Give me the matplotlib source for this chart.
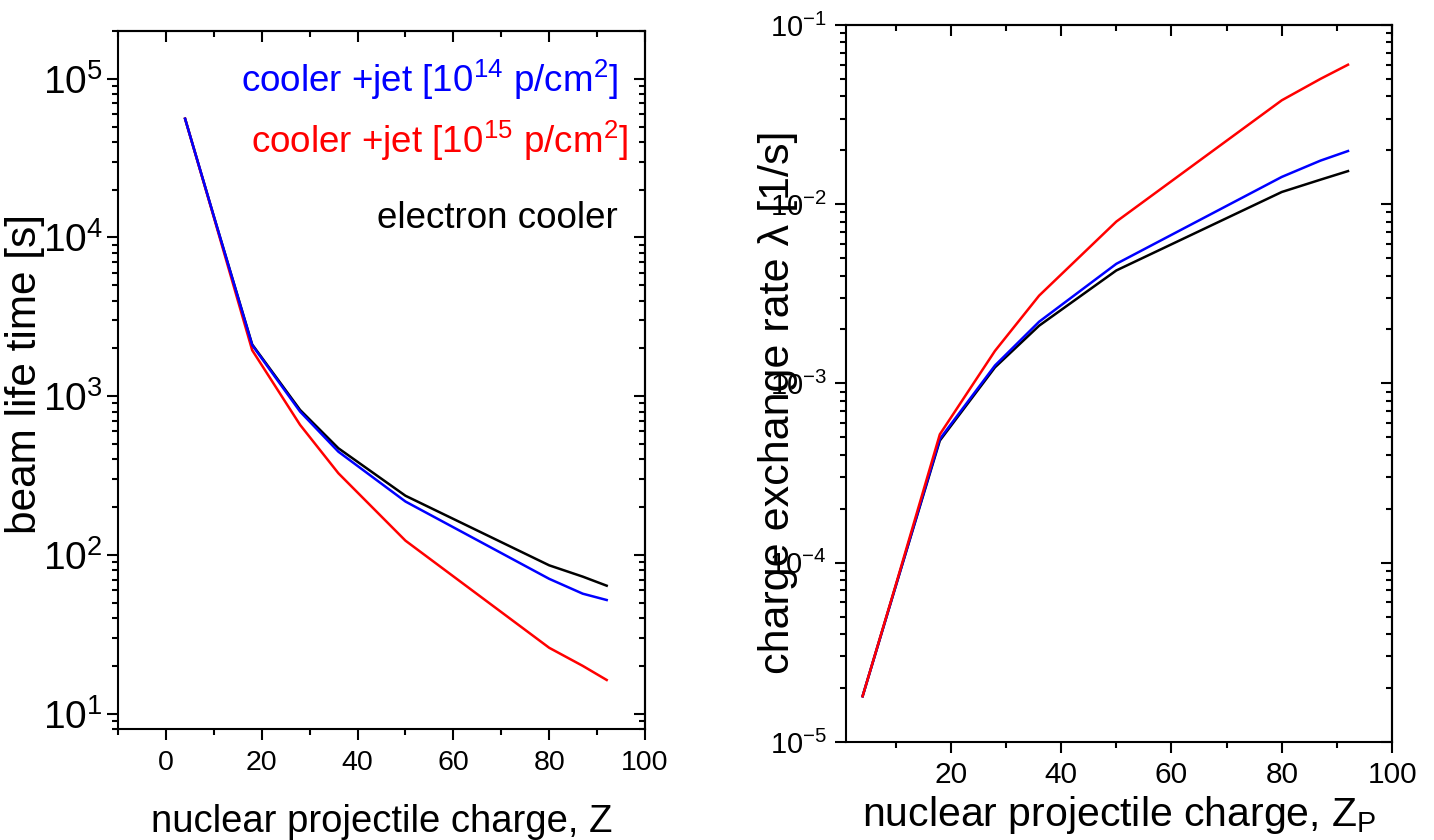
import math
import matplotlib
matplotlib.use("Agg")
import matplotlib.pyplot as plt
from matplotlib.ticker import MultipleLocator, LogLocator, NullFormatter, FuncFormatter

plt.rcParams['font.family'] = ['Liberation Sans', 'DejaVu Sans']
plt.rcParams['mathtext.fontset'] = 'custom'
plt.rcParams['mathtext.rm'] = 'Liberation Sans'
plt.rcParams['mathtext.it'] = 'Liberation Sans:italic'
plt.rcParams['mathtext.default'] = 'regular'

# nuclear charge of the projectiles
Z = [4, 10, 18, 28, 36, 50, 80, 87, 92]

# beam life time [s]
life_cooler = [56000, 13600, 2120, 820, 470, 236, 86, 73, 64]
life_jet14 = [56000, 13600, 2100, 800, 447, 217, 70.7, 57, 52]
life_jet15 = [56000, 13400, 1950, 660, 327, 123, 26, 20, 16.3]

# charge exchange rate [1/s]
rate_cooler = [1.8e-5, 7.4e-5, 4.8e-4, 1.23e-3, 2.1e-3, 4.27e-3, 1.17e-2, 1.37e-2, 1.53e-2]
rate_jet14 = [1.8e-5, 7.4e-5, 4.9e-4, 1.26e-3, 2.21e-3, 4.65e-3, 1.42e-2, 1.75e-2, 1.98e-2]
rate_jet15 = [1.8e-5, 7.5e-5, 5.2e-4, 1.52e-3, 3.09e-3, 8.0e-3, 3.8e-2, 5.0e-2, 6.0e-2]

LW = 1.8


def log_fmt(v, pos):
    return r"$10^{%d}$" % int(round(math.log10(v)))


def style_axes(ax, xmajor, xlabelsize, ylabelsize, xpad, ypad):
    ax.set_yscale('log')
    ax.xaxis.set_major_locator(MultipleLocator(xmajor))
    ax.xaxis.set_minor_locator(MultipleLocator(xmajor / 2))
    ax.yaxis.set_major_locator(LogLocator(base=10))
    ax.yaxis.set_minor_locator(LogLocator(base=10, subs=range(2, 10)))
    ax.yaxis.set_minor_formatter(NullFormatter())
    ax.yaxis.set_major_formatter(FuncFormatter(log_fmt))
    ax.tick_params(which='both', direction='out', width=1.5, top=False, right=False)
    ax.tick_params(which='major', length=8)
    ax.tick_params(which='minor', length=4.5)
    ax.tick_params(axis='x', labelsize=xlabelsize, pad=xpad)
    ax.tick_params(axis='y', labelsize=ylabelsize, pad=ypad)
    for s in ax.spines.values():
        s.set_linewidth(1.5)

    # mirrored ticks pointing inwards on top and right
    top = ax.secondary_xaxis('top')
    top.xaxis.set_major_locator(MultipleLocator(xmajor))
    top.xaxis.set_minor_locator(MultipleLocator(xmajor / 2))
    top.tick_params(which='both', direction='in', width=1.5, labeltop=False)
    top.tick_params(which='major', length=8)
    top.tick_params(which='minor', length=4.5)
    top.spines['top'].set_linewidth(1.5)

    right = ax.secondary_yaxis('right')
    right.yaxis.set_major_locator(LogLocator(base=10))
    right.yaxis.set_minor_locator(LogLocator(base=10, subs=range(2, 10)))
    right.tick_params(which='both', direction='in', width=1.5, labelright=False)
    right.tick_params(which='major', length=8)
    right.tick_params(which='minor', length=4.5)
    right.spines['right'].set_linewidth(1.5)


fig = plt.figure(figsize=(14.34, 8.4), dpi=100)

# --- left panel: beam life time ---
ax1 = fig.add_axes([0.0823, 0.1321, 0.3675, 0.831])
ax1.plot(Z, life_cooler, color='black', lw=LW)
ax1.plot(Z, life_jet15, color='red', lw=LW)
ax1.plot(Z, life_jet14, color='blue', lw=LW)
ax1.set_xlim(-10, 100)
ax1.set_ylim(8, 2e5)
style_axes(ax1, 20, 20.5, 28, 7, 3)
ax1.set_xlabel("nuclear projectile charge, Z", fontsize=27.5)
ax1.xaxis.set_label_coords(0.5, -0.108)
ax1.set_ylabel("beam life time [s]", fontsize=30.5)
ax1.yaxis.set_label_coords(-0.138, 0.509)

ax1.text(0.949, 0.9126, r"cooler +jet [10$^{14}$ p/cm$^{2}$]", color='blue',
         fontsize=26.5, ha='right', va='baseline', transform=ax1.transAxes)
ax1.text(0.968, 0.825, r"cooler +jet [10$^{15}$ p/cm$^{2}$]", color='red',
         fontsize=26.5, ha='right', va='baseline', transform=ax1.transAxes)
ax1.text(0.949, 0.718, "electron cooler", color='black',
         fontsize=26.5, ha='right', va='baseline', transform=ax1.transAxes)

# --- right panel: charge exchange rate ---
ax2 = fig.add_axes([0.590, 0.1167, 0.3808, 0.8536])
ax2.plot(Z, rate_cooler, color='black', lw=LW)
ax2.plot(Z, rate_jet14, color='blue', lw=LW)
ax2.plot(Z, rate_jet15, color='red', lw=LW)
ax2.set_xlim(1, 100)
ax2.set_ylim(1e-5, 1e-1)
style_axes(ax2, 20, 21.5, 21, 6, 6)
ax2.set_xlabel(r"nuclear projectile charge, Z$_{\mathrm{P}}$", fontsize=29.5)
ax2.xaxis.set_label_coords(0.5, -0.072)
ax2.set_ylabel(u"charge exchange rate \u03bb [1/s]", fontsize=31)
ax2.yaxis.set_label_coords(-0.088, 0.474)

fig.savefig("out.png", dpi=100)
